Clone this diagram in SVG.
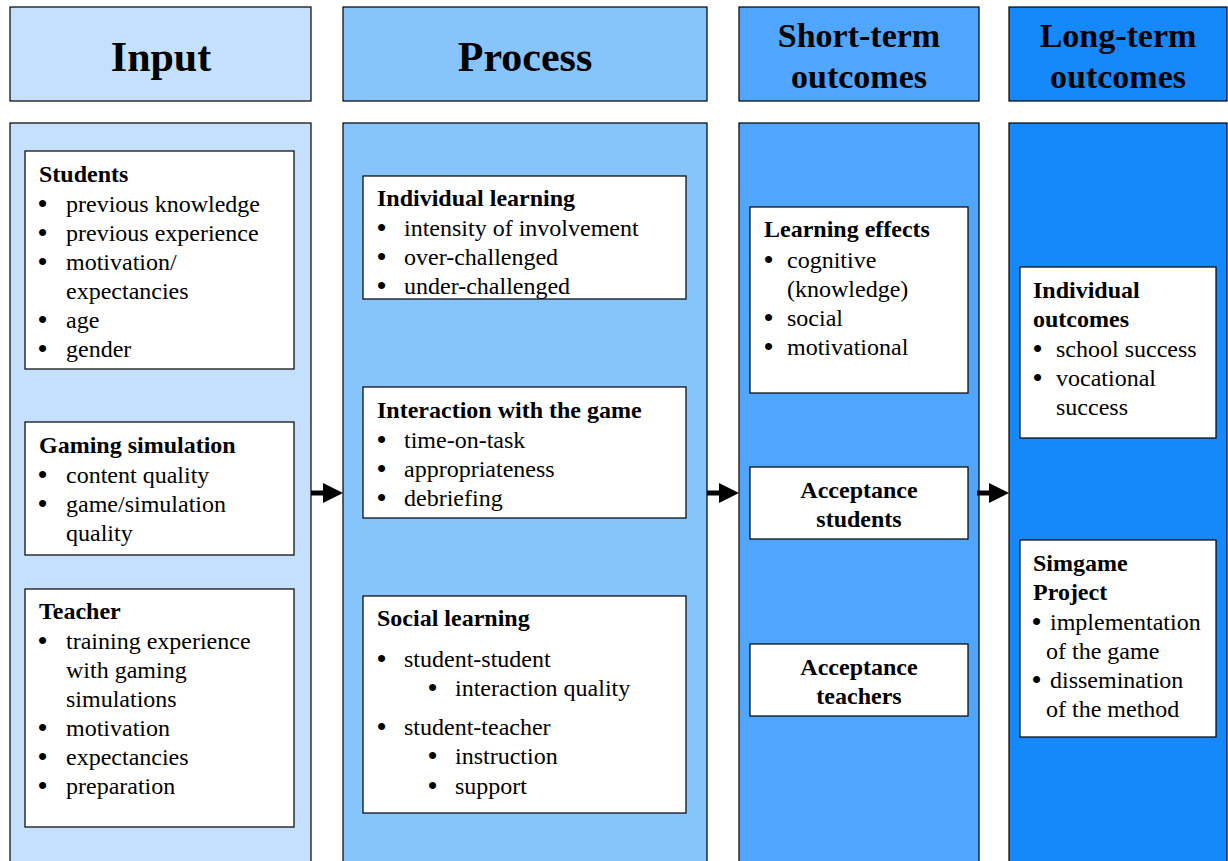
<svg xmlns="http://www.w3.org/2000/svg" width="1228" height="861" viewBox="0 0 1228 861">
<style>
.col{stroke:#000;stroke-width:1.2}
.box{fill:#fff;stroke:#000;stroke-width:1.2}
text{font-family:"Liberation Serif","Times New Roman",serif;fill:#000}
.h1{font-size:42px;font-weight:bold;text-anchor:middle}
.h2{font-size:34px;font-weight:bold;text-anchor:middle}
.t{font-size:24px;font-weight:bold}
.tc{font-size:24px;font-weight:bold;text-anchor:middle}
.b{font-size:24px}
.d{font-size:26px;font-weight:bold}
</style>
<defs>
<g id="arr"><rect x="0" y="-2.5" width="14" height="5" fill="#000"/><polygon points="12,-10 32,0 12,10" fill="#000"/></g>
</defs>
<rect width="1228" height="861" fill="#fff"/>
<g id="col-input">
<rect class="col" x="10" y="7" width="301" height="94" fill="#c4e0fc"/>
<text class="h1" x="161" y="71">Input</text>
<rect class="col" x="10" y="123" width="301" height="745" fill="#c4e0fc"/>
</g>
<g id="col-process">
<rect class="col" x="343" y="7" width="364" height="94" fill="#88c4fc"/>
<text class="h1" x="525" y="71">Process</text>
<rect class="col" x="343" y="123" width="364" height="745" fill="#88c4fc"/>
</g>
<g id="col-short">
<rect class="col" x="739" y="7" width="240" height="94" fill="#4fa6fc"/>
<text class="h2" x="859" y="47">Short-term</text>
<text class="h2" x="859" y="88">outcomes</text>
<rect class="col" x="739" y="123" width="240" height="745" fill="#4fa6fc"/>
</g>
<g id="col-long">
<rect class="col" x="1009" y="7" width="218" height="94" fill="#1589fc"/>
<text class="h2" x="1118" y="47">Long-term</text>
<text class="h2" x="1118" y="88">outcomes</text>
<rect class="col" x="1009" y="123" width="218" height="745" fill="#1589fc"/>
</g>
<g id="connectors">
<use href="#arr" x="311" y="493"/>
<use href="#arr" x="707" y="493"/>
<use href="#arr" x="977" y="493"/>
</g>
<g id="students">
<rect class="box" x="25" y="151" width="269" height="218"/>
<text class="t" x="39" y="182">Students</text>
<text class="b"><tspan class="d" x="38" y="212">•</tspan><tspan x="66" y="212">previous knowledge</tspan><tspan class="d" x="38" y="241">•</tspan><tspan x="66" y="241">previous experience</tspan><tspan class="d" x="38" y="270">•</tspan><tspan x="66" y="270">motivation/</tspan><tspan x="66" y="299">expectancies</tspan><tspan class="d" x="38" y="328">•</tspan><tspan x="66" y="328">age</tspan><tspan class="d" x="38" y="357">•</tspan><tspan x="66" y="357">gender</tspan></text>
</g>
<g id="gaming">
<rect class="box" x="25" y="422" width="269" height="133"/>
<text class="t" x="39" y="453">Gaming simulation</text>
<text class="b"><tspan class="d" x="38" y="483">•</tspan><tspan x="66" y="483">content quality</tspan><tspan class="d" x="38" y="512">•</tspan><tspan x="66" y="512">game/simulation</tspan><tspan x="66" y="541">quality</tspan></text>
</g>
<g id="teacher">
<rect class="box" x="25" y="589" width="269" height="238"/>
<text class="t" x="39" y="619">Teacher</text>
<text class="b"><tspan class="d" x="38" y="649">•</tspan><tspan x="66" y="649">training experience</tspan><tspan x="66" y="678">with gaming</tspan><tspan x="66" y="707">simulations</tspan><tspan class="d" x="38" y="736">•</tspan><tspan x="66" y="736">motivation</tspan><tspan class="d" x="38" y="765">•</tspan><tspan x="66" y="765">expectancies</tspan><tspan class="d" x="38" y="794">•</tspan><tspan x="66" y="794">preparation</tspan></text>
</g>
<g id="individual-learning">
<rect class="box" x="363" y="176" width="323" height="123"/>
<text class="t" x="377" y="206">Individual learning</text>
<text class="b"><tspan class="d" x="377" y="236">•</tspan><tspan x="404" y="236">intensity of involvement</tspan><tspan class="d" x="377" y="265">•</tspan><tspan x="404" y="265">over-challenged</tspan><tspan class="d" x="377" y="294">•</tspan><tspan x="404" y="294">under-challenged</tspan></text>
</g>
<g id="interaction">
<rect class="box" x="363" y="387" width="323" height="131"/>
<text class="t" x="377" y="418">Interaction with the game</text>
<text class="b"><tspan class="d" x="377" y="448">•</tspan><tspan x="404" y="448">time-on-task</tspan><tspan class="d" x="377" y="477">•</tspan><tspan x="404" y="477">appropriateness</tspan><tspan class="d" x="377" y="506">•</tspan><tspan x="404" y="506">debriefing</tspan></text>
</g>
<g id="social-learning">
<rect class="box" x="363" y="596" width="323" height="217"/>
<text class="t" x="377" y="626">Social learning</text>
<text class="b"><tspan class="d" x="377" y="667">•</tspan><tspan x="404" y="667">student-student</tspan><tspan class="d" x="428" y="696">•</tspan><tspan x="455" y="696">interaction quality</tspan><tspan class="d" x="377" y="735">•</tspan><tspan x="404" y="735">student-teacher</tspan><tspan class="d" x="428" y="764">•</tspan><tspan x="455" y="764">instruction</tspan><tspan class="d" x="428" y="794">•</tspan><tspan x="455" y="794">support</tspan></text>
</g>
<g id="learning-effects">
<rect class="box" x="750" y="207" width="218" height="186"/>
<text class="t" x="764" y="237">Learning effects</text>
<text class="b"><tspan class="d" x="764" y="268">•</tspan><tspan x="787" y="268">cognitive</tspan><tspan x="787" y="297">(knowledge)</tspan><tspan class="d" x="764" y="326">•</tspan><tspan x="787" y="326">social</tspan><tspan class="d" x="764" y="355">•</tspan><tspan x="787" y="355">motivational</tspan></text>
</g>
<g id="acceptance-students">
<rect class="box" x="750" y="467" width="218" height="72"/>
<text class="tc" x="859" y="498">Acceptance</text>
<text class="tc" x="859" y="527">students</text>
</g>
<g id="acceptance-teachers">
<rect class="box" x="750" y="644" width="218" height="72"/>
<text class="tc" x="859" y="675">Acceptance</text>
<text class="tc" x="859" y="704">teachers</text>
</g>
<g id="individual-outcomes">
<rect class="box" x="1020" y="267" width="196" height="171"/>
<text class="t" x="1033" y="298">Individual</text>
<text class="t" x="1033" y="327">outcomes</text>
<text class="b"><tspan class="d" x="1033" y="357">•</tspan><tspan x="1056" y="357">school success</tspan><tspan class="d" x="1033" y="386">•</tspan><tspan x="1056" y="386">vocational</tspan><tspan x="1056" y="415">success</tspan></text>
</g>
<g id="simgame">
<rect class="box" x="1020" y="540" width="196" height="197"/>
<text class="t" x="1033" y="571">Simgame</text>
<text class="t" x="1033" y="600">Project</text>
<text class="b"><tspan class="d" x="1032" y="630">•</tspan><tspan x="1050" y="630">implementation</tspan><tspan x="1046" y="659">of the game</tspan><tspan class="d" x="1032" y="688">•</tspan><tspan x="1050" y="688">dissemination</tspan><tspan x="1046" y="717">of the method</tspan></text>
</g>
</svg>
